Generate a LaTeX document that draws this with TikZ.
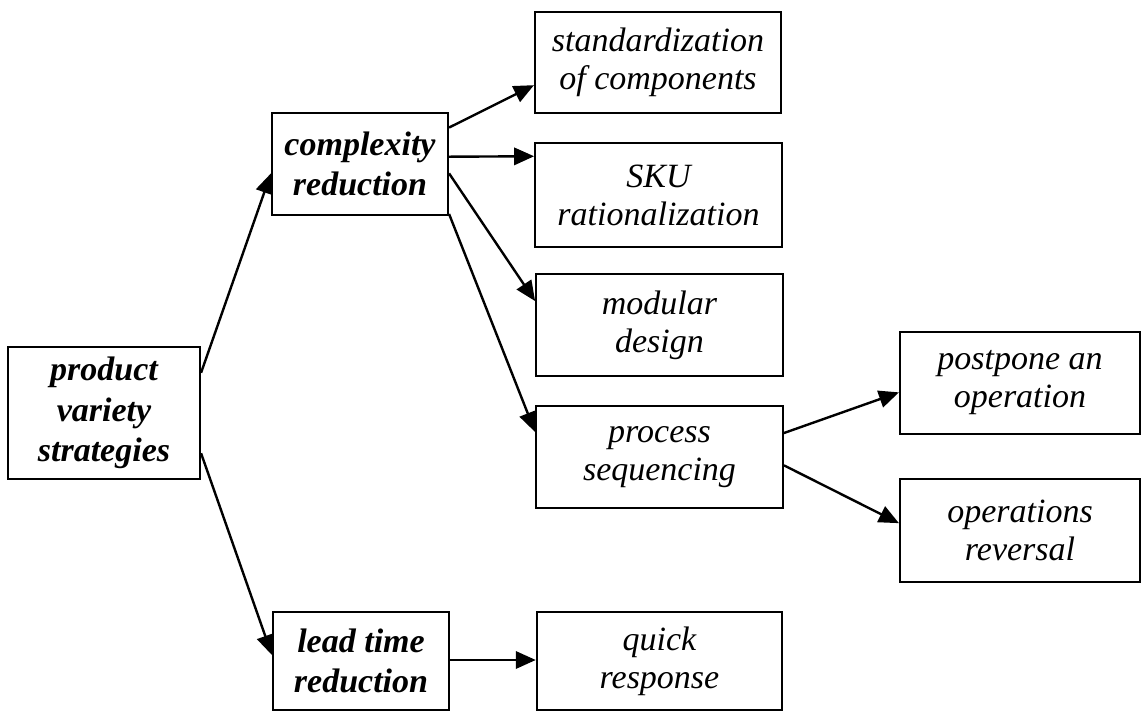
\documentclass[tikz,border=0pt]{standalone}
\usepackage{fontspec}
\setmainfont{Liberation Serif}
\usetikzlibrary{arrows.meta,calc}
\begin{document}
\begin{tikzpicture}[x=0.75pt,y=-0.75pt,
  boxbase/.style={draw, line width=1.6pt, inner sep=0pt, align=center},
  plainbox/.style={boxbase, font=\fontsize{25.5}{28.5}\selectfont\itshape},
  boldbox/.style={boxbase, font=\fontsize{25.5}{30.5}\selectfont\bfseries\itshape},
  conn/.style={line width=1.8pt, -{Triangle[length=15pt,width=13pt]}}]
\useasboundingbox (0,0) rectangle (1142,713);
\newcommand{\edgept}[3]{($(#1.north #2)!#3!(#1.south #2)$)}
\node[boldbox, minimum width=144pt, minimum height=99pt] (pvs) at (104,413) {product\\variety\\strategies};
\node[boldbox, minimum width=132pt, minimum height=76.5pt] (cr) at (360,164) {complexity\\reduction};
\node[boldbox, minimum width=132pt, minimum height=73.5pt] (lt) at (361,661) {lead time\\reduction};
\node[plainbox, minimum width=184.5pt, minimum height=75.75pt] (sc) at (658,62.5) {standardization\\of components};
\node[plainbox, minimum width=185pt, minimum height=78pt] (sku) at (658.5,195) {SKU\\rationalization};
\node[plainbox, minimum width=185pt, minimum height=76.5pt] (md) at (659.5,325) {modular\\design};
\node[plainbox, minimum width=185pt, minimum height=76.5pt] (ps) at (659.5,457) {process\\sequencing};
\node[plainbox, minimum width=180pt, minimum height=76.5pt] (pp) at (1020,383) {postpone an\\operation};
\node[plainbox, minimum width=180pt, minimum height=77pt] (or) at (1020,530.5) {operations\\reversal};
\node[plainbox, minimum width=184pt, minimum height=73.5pt] (qr) at (659.5,661) {quick\\response};
\draw[conn] \edgept{pvs}{east}{0.2} -- \edgept{cr}{west}{0.59};
\draw[conn] \edgept{pvs}{east}{0.8} -- \edgept{lt}{west}{0.44};
\draw[conn] \edgept{cr}{east}{0.15} -- \edgept{sc}{west}{0.72};
\draw[conn] \edgept{cr}{east}{0.43} -- \edgept{sku}{west}{0.135};
\draw[conn] \edgept{cr}{east}{0.59} -- \edgept{md}{west}{0.27};
\draw[conn] \edgept{cr}{east}{0.98} -- \edgept{ps}{west}{0.26};
\draw[conn] \edgept{ps}{east}{0.27} -- \edgept{pp}{west}{0.59};
\draw[conn] \edgept{ps}{east}{0.58} -- \edgept{or}{west}{0.43};
\draw[conn] \edgept{lt}{east}{0.49} -- \edgept{qr}{west}{0.49};
\end{tikzpicture}
\end{document}
